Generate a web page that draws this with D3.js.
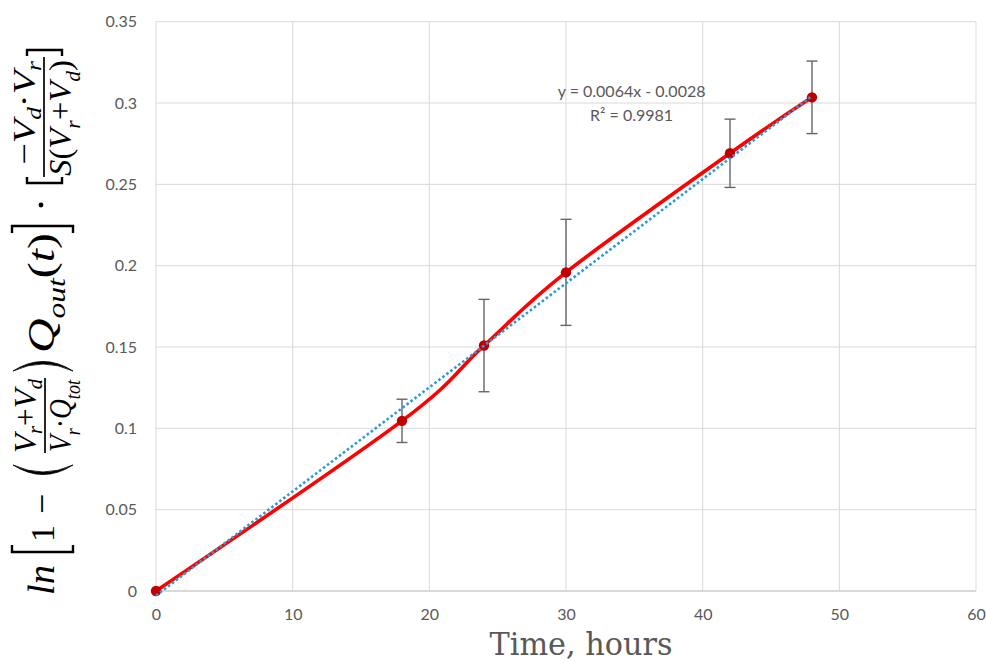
<!DOCTYPE html>
<html>
<head>
<meta charset="utf-8">
<script src="https://cdn.jsdelivr.net/npm/d3@7"></script>
<style>
  html, body { margin: 0; padding: 0; background: #fff; }
  svg { display: block; font-family: Lato, "Open Sans", sans-serif; }
</style>
</head>
<body>
<div id="chart"></div>
<script>
// measured points (hours vs transformed outflow), with ± error
const times = [0, 18, 24, 30, 42, 48];
const values = [0, 0.1046, 0.1509, 0.1959, 0.2691, 0.3035];
const errors = [0, 0.0133, 0.0284, 0.0326, 0.021, 0.0223];

// linear trendline as reported on the chart
const trendSlope = 0.0064;
const trendIntercept = -0.0028;
const trendR2 = 0.9981;

const xTicks = [0, 10, 20, 30, 40, 50, 60];
const yTicks = [0, 0.05, 0.1, 0.15, 0.2, 0.25, 0.3, 0.35];
const xTitle = 'Time, hours';

const width = 986, height = 663;
const m = { top: 21.7, right: 10, bottom: 72, left: 156 };
const iw = width - m.left - m.right;
const ih = height - m.top - m.bottom;

const svg = d3.select('#chart').append('svg')
  .attr('width', width).attr('height', height)
  .attr('viewBox', `0 0 ${width} ${height}`);
const g = svg.append('g').attr('transform', `translate(${m.left},${m.top})`);

const x = d3.scaleLinear().domain([0, 60]).range([0, iw]);
const y = d3.scaleLinear().domain([0, 0.35]).range([ih, 0]);

// gridlines
g.append('g').selectAll('line').data(yTicks).join('line')
  .attr('x1', 0).attr('x2', iw)
  .attr('y1', d => y(d)).attr('y2', d => y(d))
  .attr('stroke', '#d9d9d9').attr('stroke-width', 1);
g.append('g').selectAll('line').data(xTicks).join('line')
  .attr('y1', 0).attr('y2', ih)
  .attr('x1', d => x(d)).attr('x2', d => x(d))
  .attr('stroke', '#d9d9d9').attr('stroke-width', 1);

// axes (labels only; the bottom line is slightly darker)
const yAxisG = g.append('g')
  .call(d3.axisLeft(y).tickValues(yTicks).tickSize(0).tickPadding(19)
    .tickFormat(d => String(+d.toFixed(2))));
const xAxisG = g.append('g').attr('transform', `translate(0,${ih})`)
  .call(d3.axisBottom(x).tickValues(xTicks).tickSize(0).tickPadding(18));
[yAxisG, xAxisG].forEach(a => {
  a.select('.domain').remove();
  a.selectAll('text').attr('fill', '#595959').attr('font-size', 16)
    .attr('font-family', 'Lato, "Open Sans", sans-serif');
});
g.append('line').attr('x1', 0).attr('x2', iw).attr('y1', ih).attr('y2', ih)
  .attr('stroke', '#c8c8c8').attr('stroke-width', 1);

const pts = times.map((t, i) => ({ x: t, y: values[i], e: errors[i] }));

// smoothed series line
const line = d3.line().x(d => x(d.x)).y(d => y(d.y)).curve(d3.curveCardinal.tension(0));
g.append('path').attr('d', line(pts))
  .attr('fill', 'none').attr('stroke', '#ff0000').attr('stroke-width', 3.6)
  .attr('stroke-linejoin', 'round');

// error bars
const eb = g.append('g').attr('stroke', '#666').attr('stroke-width', 1.4);
pts.filter(d => d.e > 0).forEach(d => {
  const cx = x(d.x), y0 = y(d.y - d.e), y1 = y(d.y + d.e);
  eb.append('line').attr('x1', cx).attr('x2', cx).attr('y1', y0).attr('y2', y1);
  eb.append('line').attr('x1', cx - 5.5).attr('x2', cx + 5.5).attr('y1', y0).attr('y2', y0);
  eb.append('line').attr('x1', cx - 5.5).attr('x2', cx + 5.5).attr('y1', y1).attr('y2', y1);
});

// markers
g.append('g').selectAll('circle').data(pts).join('circle')
  .attr('cx', d => x(d.x)).attr('cy', d => y(d.y)).attr('r', 5.2)
  .attr('fill', '#c00000');

// dotted trendline over the series
const tx = d3.extent(times);
g.append('line')
  .attr('x1', x(tx[0])).attr('y1', y(trendSlope * tx[0] + trendIntercept))
  .attr('x2', x(tx[1])).attr('y2', y(trendSlope * tx[1] + trendIntercept))
  .attr('stroke', '#2e9bd6').attr('stroke-width', 2.6)
  .attr('stroke-dasharray', '2.6 2.4');

// trendline equation label
const eqX = x(34.8);
g.append('text').attr('x', eqX).attr('y', y(0.3) - 6)
  .attr('text-anchor', 'middle').attr('font-size', 16).attr('fill', '#595959')
  .text(`y = ${trendSlope}x - ${Math.abs(trendIntercept)}`);
g.append('text').attr('x', eqX).attr('y', y(0.3) + 18)
  .attr('text-anchor', 'middle').attr('font-size', 16).attr('fill', '#595959')
  .text(`R² = ${trendR2}`);

// x title
svg.append('text').attr('x', 581).attr('y', 655)
  .attr('text-anchor', 'middle').attr('font-size', 32).attr('fill', '#595959')
  .attr('font-family', '"DejaVu Serif", "Liberation Serif", serif')
  .attr('textLength', 183).attr('lengthAdjust', 'spacingAndGlyphs')
  .text(xTitle);

// y title: rotated math formula (u runs up the page, v to the right)
const fg = svg.append('g').attr('transform', 'translate(54,598) rotate(-90)')
  .attr('font-family', '"Liberation Serif", "DejaVu Serif", serif').attr('fill', '#000');

function formula(parts, u, v, size, len, anchor = 'start', subShift = 0.28) {
  const t = fg.append('text').attr('x', u).attr('y', v)
    .attr('font-size', size).attr('text-anchor', anchor);
  let shift = 0;
  parts.forEach(([s, kind]) => {
    const sub = kind === 's';
    const target = sub ? size * subShift : 0;
    t.append('tspan')
      .attr('dy', target - shift)
      .attr('font-size', sub ? size * 0.66 : size)
      .attr('font-style', kind === 'n' ? 'normal' : 'italic')
      .text(s);
    shift = target;
  });
  if (len) t.attr('textLength', len).attr('lengthAdjust', 'spacingAndGlyphs');
  return t;
}
function bracket(u, open, v0 = -42, v1 = 19, tick = 7) {
  const d = open ? -tick : tick;
  fg.append('path')
    .attr('d', `M${u - d},${v0} L${u},${v0} L${u},${v1} L${u - d},${v1}`)
    .attr('fill', 'none').attr('stroke', '#000').attr('stroke-width', 2.4);
}
// filled crescent, apex at u
function paren(u, open) {
  const s = open ? 1 : -1;
  const a = u + s * 9;
  fg.append('path')
    .attr('d', `M${a},-41 Q${a - s * 19},-11 ${a},19 Q${a - s * 14},-11 ${a},-41 Z`)
    .attr('fill', '#000').attr('stroke', '#000').attr('stroke-width', 0.8);
}
function fracBar(u0, u1, v) {
  fg.append('line').attr('x1', u0).attr('x2', u1).attr('y1', v).attr('y2', v)
    .attr('stroke', '#000').attr('stroke-width', 1.7);
}

formula([['ln', 'i']], 3, 0, 38, 30);
bracket(46, true);
formula([['1', 'n']], 56, 0, 34);
formula([['−', 'n']], 84, 0, 36);
paren(124, true);
formula([['V', 'i'], ['r', 's'], ['+', 'n'], ['V', 'i'], ['d', 's']], 182, -18, 32, 74, 'middle', 0.2);
fracBar(145, 220, -9);
formula([['V', 'i'], ['r', 's'], ['·', 'n'], ['Q', 'i'], ['tot', 's']], 182, 17, 32, 72, 'middle');
paren(236, false);
formula([['Q', 'i'], ['out', 's'], ['(', 'n'], ['t', 'i'], [')', 'n']], 245, 0, 38, 120);
bracket(372, false);
fg.append('circle').attr('cx', 393).attr('cy', -13).attr('r', 2.4).attr('fill', '#000');
bracket(415, true, -27, 8, 6);
formula([['−', 'n'], ['V', 'i'], ['d', 's'], ['·', 'n'], ['V', 'i'], ['r', 's']], 485, -19, 32, 104, 'middle', 0.19);
fracBar(421, 541, -10);
formula([['S', 'i'], ['(', 'n'], ['V', 'i'], ['r', 's'], ['+', 'n'], ['V', 'i'], ['d', 's'], [')', 'n']], 480, 17, 32, 116, 'middle');
bracket(548, false, -27, 8, 6);
</script>
</body>
</html>
